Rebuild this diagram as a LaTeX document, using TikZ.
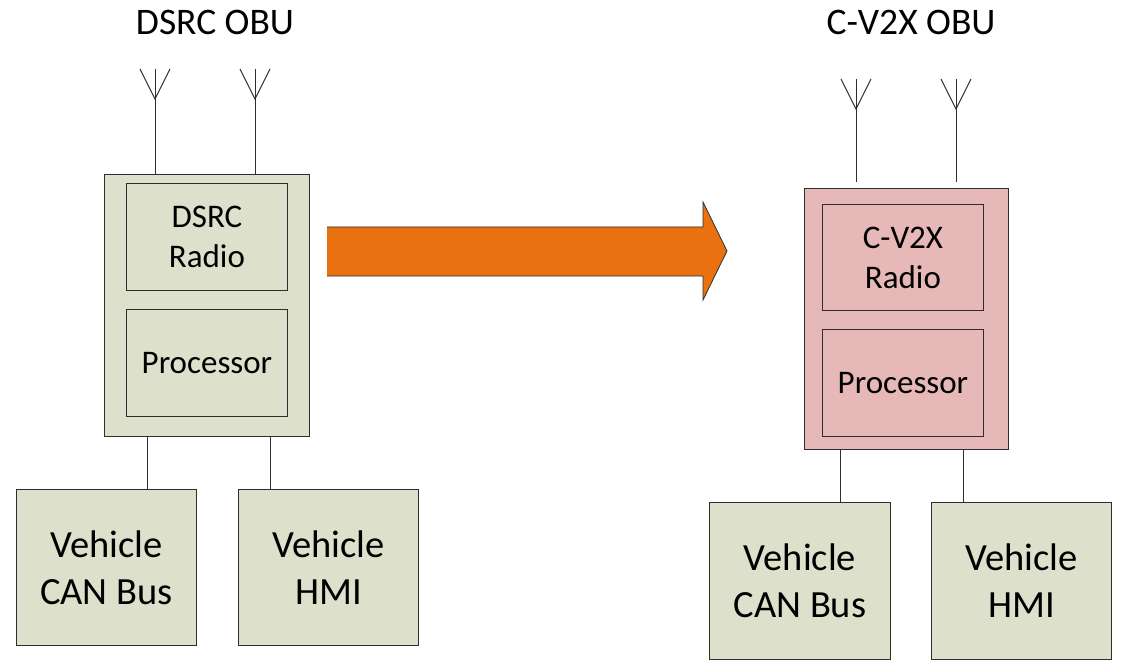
\documentclass[tikz,border=0pt]{standalone}
\usepackage{fontspec}
\setmainfont{Carlito}
\definecolor{boxgreen}{HTML}{DDE0CB}
\definecolor{boxpink}{HTML}{E6B9B8}
\definecolor{arroworange}{HTML}{E97110}
\definecolor{edge}{HTML}{2E2E2E}
\tikzset{
  blk/.style={draw=edge, line width=0.9pt, rectangle, inner sep=0pt, anchor=north west, align=center},
  obu/.style={blk},
  part/.style={blk, font=\fontsize{33}{40}\selectfont},
  ext/.style={blk, fill=boxgreen, minimum width=180pt, minimum height=156pt, font=\fontsize{38.5}{47}\selectfont},
  title/.style={font=\fontsize{37.5}{44}\selectfont, inner sep=0pt},
  wire/.style={draw=edge, line width=0.8pt},
  aerial/.style={draw=edge, line width=1pt},
}
\begin{document}
\begin{tikzpicture}[x=1pt,y=-1pt]
\useasboundingbox (0,0) rectangle (1127,663);

% ---------- DSRC on-board unit ----------
\node[title] (tdsrc) at (215,22) {DSRC OBU};
\node[obu, fill=boxgreen, minimum width=205pt, minimum height=262pt] (obuL) at (104,174) {};
\node[part, fill=boxgreen, minimum width=161pt, minimum height=107pt] (radL) at (126,183) {DSRC\\Radio};
\node[part, fill=boxgreen, minimum width=161pt, minimum height=107pt] (procL) at (126,309) {Processor};
\node[ext] (canL) at (16,489) {Vehicle\\CAN Bus};
\node[ext] (hmiL) at (238,489) {Vehicle\\HMI};

% antennas
\foreach \n/\x in {a1/155,a2/255}{
  \coordinate (\n base) at (\x,174);
  \coordinate (\n v) at (\x,99);
  \coordinate (\n top) at (\x,69);
  \coordinate (\n l) at (\x-15,69);
  \coordinate (\n r) at (\x+15,69);
  \draw[aerial] (\n base) -- (\n top);
  \draw[aerial] (\n l) -- (\n v) -- (\n r);
}

% bus connections
\coordinate (cL1) at (147,436);
\coordinate (cL2) at (270,436);
\draw[wire] (cL1) -- (cL1 |- canL.north);
\draw[wire] (cL2) -- (cL2 |- hmiL.north);

% ---------- migration arrow ----------
\coordinate (ar1) at (327,227);
\coordinate (ar2) at (703,227);
\coordinate (ar3) at (703,202);
\coordinate (ar4) at (727,251);
\coordinate (ar5) at (703,300);
\coordinate (ar6) at (703,276);
\coordinate (ar7) at (327,276);
\fill[arroworange] (ar1) -- (ar2) -- (ar3) -- (ar4) -- (ar5) -- (ar6) -- (ar7) -- cycle;
\draw[edge, line width=0.8pt, line join=miter] (ar1) -- (ar2) -- (ar3) -- (ar4) -- (ar5) -- (ar6) -- (ar7);

% ---------- C-V2X on-board unit ----------
\node[title] (tcv) at (911,22) {C-V2X OBU};
\node[obu, fill=boxpink, minimum width=204pt, minimum height=261pt] (obuR) at (804,188) {};
\node[part, fill=boxpink, minimum width=161pt, minimum height=106pt] (radR) at (822,204) {C-V2X\\Radio};
\node[part, fill=boxpink, minimum width=161pt, minimum height=107pt] (procR) at (822,329) {Processor};
\node[ext, minimum width=181pt, minimum height=157pt] (canR) at (709,502) {Vehicle\\CAN Bus};
\node[ext, minimum width=180pt, minimum height=157pt] (hmiR) at (931,502) {Vehicle\\HMI};

\foreach \n/\x in {b1/856,b2/956}{
  \coordinate (\n base) at (\x,182);
  \coordinate (\n v) at (\x,109);
  \coordinate (\n top) at (\x,79);
  \coordinate (\n l) at (\x-15,79);
  \coordinate (\n r) at (\x+15,79);
  \draw[aerial] (\n base) -- (\n top);
  \draw[aerial] (\n l) -- (\n v) -- (\n r);
}

\coordinate (cR1) at (840,449);
\coordinate (cR2) at (963,449);
\draw[wire] (cR1) -- (cR1 |- canR.north);
\draw[wire] (cR2) -- (cR2 |- hmiR.north);
\end{tikzpicture}
\end{document}
